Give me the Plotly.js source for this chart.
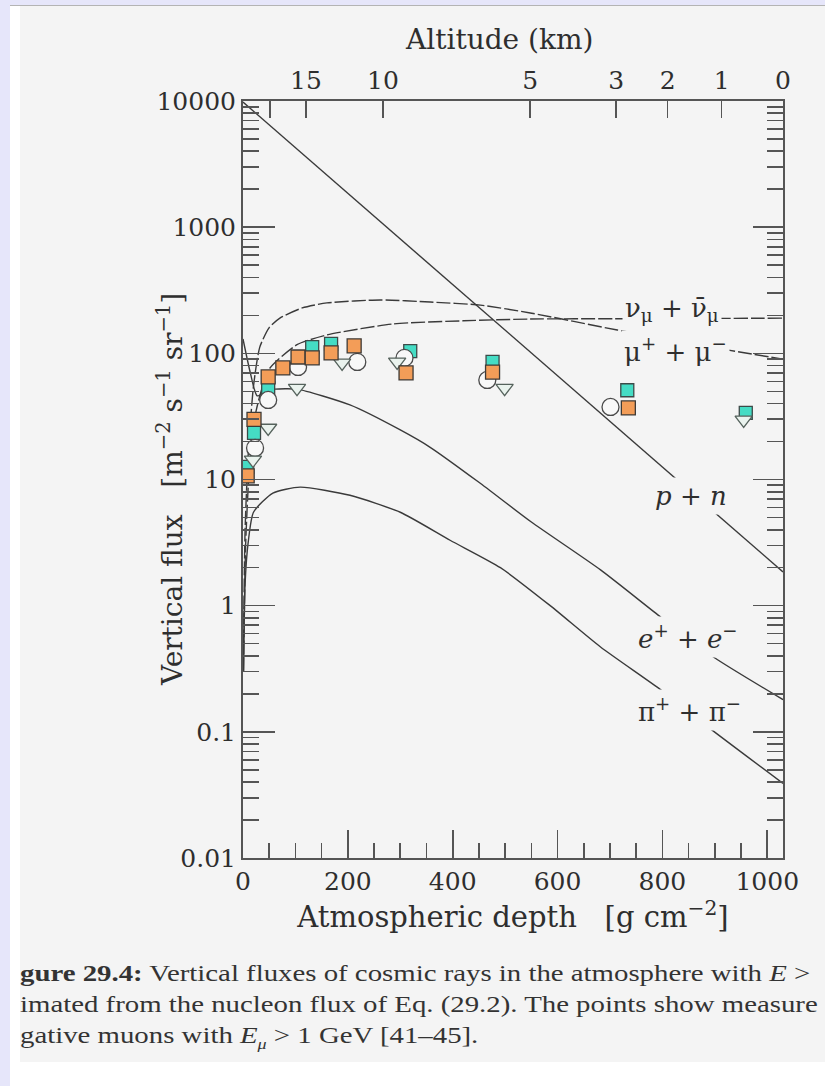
<!DOCTYPE html>
<html><head><meta charset="utf-8">
<script src="https://cdn.plot.ly/plotly-3.0.1.min.js"></script>
<style>
html,body{margin:0;padding:0;background:#fff;width:825px;height:1086px;overflow:hidden;position:relative;}
#lav{position:absolute;left:0;top:0;width:10px;height:1086px;background:#e6e6fa;}
#lavtop{position:absolute;left:0;top:0;width:825px;height:5px;background:#e6e6fa;}
#topline{position:absolute;left:10px;top:5px;width:815px;height:1px;background:#b4b4b4;}
#gray{position:absolute;left:20px;top:6px;width:805px;height:1056px;background:#f4f4f4;}
#plot{position:absolute;left:0;top:0;width:825px;height:1086px;}
#cap{position:absolute;left:20px;top:958px;width:805px;height:100px;overflow:hidden;color:#333;}
#capin{transform:scaleX(1.2);transform-origin:0 0;font-family:"Liberation Serif",serif;font-size:24px;line-height:31px;white-space:nowrap;}
</style></head>
<body>
<div id="lav"></div><div id="lavtop"></div><div id="topline"></div><div id="gray"></div>
<div id="plot"></div>
<div id="cap"><div id="capin">
<div><b>gure 29.4:</b> Vertical fluxes of cosmic rays in the atmosphere with <i>E</i> &gt;</div>
<div>imated from the nucleon flux of Eq. (29.2). The points show measure</div>
<div>gative muons with <i>E<sub style="font-size:15px">μ</sub></i> &gt; 1 GeV [41–45].</div>
</div></div>
<script>
// ---- data (depth in g cm^-2, flux in m^-2 s^-1 sr^-1) ----
const pnDepth = [0, 1030];
const pnFlux  = [9800, 1.85];
const muDepth = [1, 4, 10, 20, 32, 50, 71, 113, 160, 262, 357, 453, 548, 714, 926, 1030];
const muFlux  = [0.5, 4, 16, 55, 112, 160, 191, 229, 251, 265, 255, 241, 209, 153, 106, 90];
const nuDepth = [1, 5, 12, 25, 50, 103, 160, 287, 420, 548, 711, 1030];
const nuFlux  = [0.3, 3, 12, 35, 75, 117, 140, 171, 181, 187, 188, 190];
const eDepth  = [0, 14, 27, 45, 61, 103, 204, 300, 357, 450, 550, 682, 797, 898, 1030];
const eFlux   = [130, 70, 46, 50, 52, 52, 39, 24.7, 18, 9.5, 4.6, 1.92, 0.81, 0.39, 0.18];
const piDepth = [1, 4, 10, 20, 57, 109, 204, 300, 395, 491, 586, 682, 797, 886, 1030];
const piFlux  = [0.3, 1.5, 3.2, 5.5, 7.8, 8.7, 7.5, 5.5, 3.3, 2.0, 1.0, 0.47, 0.215, 0.11, 0.039];

const cyanDepth = [8, 21, 48, 132, 168, 319, 476, 733, 959];
const cyanFlux  = [12.6, 23.4, 53, 112, 119, 104, 85.5, 51, 33.7];
const circDepth = [23, 48, 105, 218, 308, 466, 701];
const circFlux  = [17.8, 42.7, 78, 85.5, 92, 61.5, 37.6];
const triDepth  = [19, 48, 103, 189, 294, 499, 955];
const triFlux   = [14.3, 25.6, 53, 84, 85.5, 53, 29.7];
const orDepth   = [8, 21, 48, 76, 105, 132, 168, 212, 311, 476, 735];
const orFlux    = [10.7, 30, 65, 76.6, 93.5, 92, 100.7, 114.6, 70, 71, 36.9];

const yTickVals = [0.01, 0.1, 1, 10, 100, 1000, 10000];
const yTickText = ["0.01", "0.1", "1", "10", "100", "1000", "10000"];
const xTickVals = [0, 200, 400, 600, 800, 1000];
const altTickVals = [52, 120, 267, 548, 712, 810, 913, 1030];
const altTickText = ["", "15", "10", "5", "3", "2", "1", "0"];

// ---- minor tick positions ----
const yMinor = [];
for (let e = -2; e < 4; e++) for (let m = 2; m <= 9; m++) yMinor.push(m * Math.pow(10, e));
const xMinor = [];
for (let v = 50; v <= 1000; v += 100) xMinor.push(v);
for (let v = 100; v <= 1000; v += 100) if (v % 200 !== 0) xMinor.push(v);

const LC = "#3a3a3a";
const lineT = (x, y, dash) => ({x, y, type: "scatter", mode: "lines", hoverinfo: "skip",
  line: {color: LC, width: 1.4, dash: dash || "solid", shape: "spline", smoothing: 0.6}, showlegend: false});
const mk = (x, y, sym, fill, edge, size) => ({x, y, type: "scatter", mode: "markers", showlegend: false,
  marker: {symbol: sym, color: fill, size: size, line: {color: edge, width: 1.3}}});

const traces = [
  lineT(pnDepth, pnFlux),
  lineT(muDepth, muFlux, "14px,3px"),
  lineT(nuDepth, nuFlux, "14px,3px"),
  lineT(eDepth, eFlux),
  lineT(piDepth, piFlux),
  mk(cyanDepth, cyanFlux, "square", "#45dcc4", "#3c4a48", 13),
  mk(circDepth, circFlux, "circle", "#f8f8f8", "#4a4a4a", 17),
  mk(triDepth, triFlux, "triangle-down", "#eaf3ee", "#55625c", 15),
  mk(orDepth, orFlux, "square", "#f39d58", "#3e3a36", 14),
  {x: [0], y: [1], xaxis: "x2", yaxis: "y2", type: "scatter", mode: "markers", marker: {opacity: 0}, hoverinfo: "skip", showlegend: false}
];

const F = "DejaVu Serif, serif";
const TC = "#2e2e2e";
const lab = (x, y, text, pad) => ({x, y: Math.log10(y), text, showarrow: false,
  font: {size: 26, family: F, color: TC}, bgcolor: "#f4f4f4", borderpad: pad});
const layout = {
  width: 825, height: 1086,
  margin: {l: 243, r: 42, t: 101, b: 228},
  paper_bgcolor: "rgba(0,0,0,0)", plot_bgcolor: "rgba(0,0,0,0)",
  showlegend: false,
  font: {family: F, color: TC},
  xaxis: {range: [0, 1030], tickvals: xTickVals, ticktext: xTickVals.map(String), ticks: "inside", ticklen: 28,
    tickwidth: 1.6, tickcolor: "#555", showline: true, linecolor: "#555", linewidth: 2, showgrid: false, zeroline: false,
    tickfont: {size: 25, family: F, color: TC},
    minor: {tickvals: xMinor, ticks: "inside", ticklen: 15, tickwidth: 1.6, tickcolor: "#555", showgrid: false},
    title: {text: "Atmospheric depth   [g cm<sup>−2</sup>]", font: {size: 29, family: F, color: TC}, standoff: 6}},
  xaxis2: {range: [0, 1030], overlaying: "x", side: "top", anchor: "y", tickvals: altTickVals, ticktext: altTickText,
    ticks: "inside", ticklen: 17, tickwidth: 1.6, tickcolor: "#555", showline: true, linecolor: "#555", linewidth: 2,
    showgrid: false, zeroline: false, tickfont: {size: 25, family: F, color: TC}},
  yaxis: {type: "log", range: [-2, 4], tickvals: yTickVals, ticktext: yTickText, ticks: "inside", ticklen: 32,
    tickwidth: 1.6, tickcolor: "#555", showline: true, linecolor: "#555", linewidth: 2, showgrid: false, zeroline: false,
    tickfont: {size: 25, family: F, color: TC},
    minor: {tickvals: yMinor, ticks: "inside", ticklen: 16, tickwidth: 1.6, tickcolor: "#555", showgrid: false}},
  yaxis2: {type: "log", range: [-2, 4], overlaying: "y", side: "right", anchor: "x", tickvals: yTickVals, ticks: "inside",
    ticklen: 30, tickwidth: 1.6, tickcolor: "#555", showticklabels: false, showline: true, linecolor: "#555", linewidth: 2,
    showgrid: false, zeroline: false,
    minor: {tickvals: yMinor, ticks: "inside", ticklen: 16, tickwidth: 1.6, tickcolor: "#555", showgrid: false}},
  annotations: [
    {xref: "paper", yref: "paper", x: (499 - 243) / 540, y: (858 - 40) / 757, xanchor: "center", yanchor: "middle",
      text: "Altitude (km)", showarrow: false, font: {size: 28, family: F, color: TC}},
    {xref: "paper", yref: "paper", x: (170 - 243) / 540, y: (858 - 490) / 757, xanchor: "center", yanchor: "middle",
      textangle: -90, showarrow: false,
      text: "Vertical flux   [m<sup>−2</sup> s<sup>−1</sup> sr<sup>−1</sup>]", font: {size: 28, family: F, color: TC}},
    lab(818, 221, "ν<sub>μ</sub> + ν̄<sub>μ</sub>", 2),
    lab(824, 106, "μ<sup>+</sup> + μ<sup>−</sup>", 2),
    lab(855, 7.4, "<i>p</i> + <i>n</i>", 3),
    lab(849, 0.566, "<i>e</i><sup>+</sup> + <i>e</i><sup>−</sup>", 3),
    lab(851, 0.149, "π<sup>+</sup> + π<sup>−</sup>", 3)
  ]
};
Plotly.newPlot("plot", traces, layout, {displayModeBar: false, staticPlot: true});
</script>
</body></html>
